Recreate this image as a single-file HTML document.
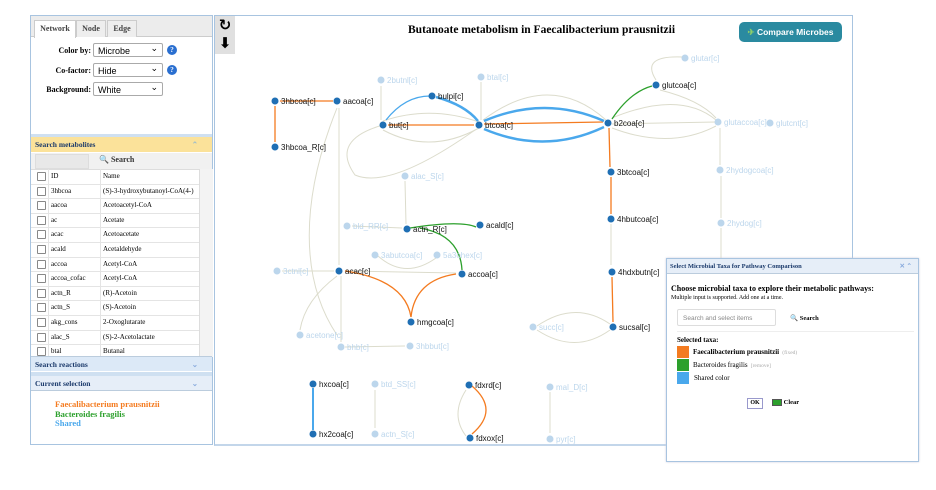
<!DOCTYPE html>
<html><head><meta charset="utf-8"><style>
body{margin:0;width:936px;height:490px;background:#fff;position:relative;overflow:hidden;font-family:"Liberation Serif",serif}
.a{position:absolute}
.lp{left:30px;top:15px;width:181px;height:428px;border:1px solid #a8c4e0;background:#fff}
.tab{position:absolute;top:4px;height:16px;border:1px solid #ccc;border-bottom:none;font-size:8px;font-weight:bold;color:#444;text-align:center;line-height:16px;background:#eee}
.lbl{position:absolute;font-size:8px;font-weight:bold;text-align:right;width:70px}
.sel{position:absolute;left:62px;width:70px;height:14px;border:1px solid #aaa;border-radius:2px;font-family:"Liberation Sans",sans-serif;font-size:9px;line-height:14px;padding-left:4px;box-sizing:border-box}
.sel:after{content:"⌄";position:absolute;right:4px;top:-3px;font-size:9px}
.q{position:absolute;left:136px;width:10px;height:10px;border-radius:50%;background:#2a6fd0;color:#fff;font-size:7px;text-align:center;line-height:10px;font-weight:bold}
.hd{position:absolute;left:0;width:181px;height:15px;font-size:7.5px;font-weight:bold;color:#1b3a6b;line-height:15px;padding-left:4px;box-sizing:border-box}
.row{position:absolute;left:0;width:168px;height:14.6px;border-bottom:1px solid #e4e4e4;font-size:7px;line-height:14px}
.row .cb{position:absolute;left:6px;top:3px;width:7px;height:7px;border:1px solid #888;border-radius:1px}
.row .i{position:absolute;left:20px}.row .n{position:absolute;left:72px}
svg text{font-family:"Liberation Sans",sans-serif;font-size:8px}
</style></head><body>
<div class="a lp">
 <div class="a" style="left:0;top:0;width:181px;height:20px;background:#ececec;border-bottom:1px solid #ccc"></div>
 <div class="tab" style="left:3px;width:40px;background:#fff;height:17px">Network</div>
 <div class="tab" style="left:45px;width:28px">Node</div>
 <div class="tab" style="left:76px;width:28px">Edge</div>
 <div class="lbl" style="left:-10px;top:30px">Color by:</div><div class="sel" style="top:27px">Microbe</div><div class="q" style="top:29px">?</div>
 <div class="lbl" style="left:-10px;top:50px">Co-factor:</div><div class="sel" style="top:47px">Hide</div><div class="q" style="top:49px">?</div>
 <div class="lbl" style="left:-10px;top:69px">Background:</div><div class="sel" style="top:66px">White</div>
 <div class="a" style="left:0;top:118px;width:181px;height:3px;background:#cfe0f1"></div>
 <div class="hd" style="top:121px;background:#fbe29a">Search metabolites<span style="position:absolute;right:14px;color:#9bc">⌃</span></div>
 <div class="a" style="left:0;top:137px;width:181px;height:16px;background:#f1f1f1;border-bottom:1px solid #ddd"></div>
 <div class="a" style="left:4px;top:138px;width:52px;height:13px;background:#e8e8e8;border:1px solid #ddd"></div>
 <div class="a" style="left:68px;top:139px;font-size:8px;font-weight:bold;color:#333"><span style="color:#3a8fd8">🔍</span> Search</div>
 <div class="a" style="left:0;top:153px;width:168px;height:190px;overflow:hidden">
  <div class="row" style="top:0"><div class="cb"></div><span class="i">ID</span><span class="n">Name</span></div>
  <div class="row" style="top:14.6px"><div class="cb"></div><span class="i">3hbcoa</span><span class="n">(S)-3-hydroxybutanoyl-CoA(4-)</span></div>
  <div class="row" style="top:29.2px"><div class="cb"></div><span class="i">aacoa</span><span class="n">Acetoacetyl-CoA</span></div>
  <div class="row" style="top:43.8px"><div class="cb"></div><span class="i">ac</span><span class="n">Acetate</span></div>
  <div class="row" style="top:58.4px"><div class="cb"></div><span class="i">acac</span><span class="n">Acetoacetate</span></div>
  <div class="row" style="top:73px"><div class="cb"></div><span class="i">acald</span><span class="n">Acetaldehyde</span></div>
  <div class="row" style="top:87.6px"><div class="cb"></div><span class="i">accoa</span><span class="n">Acetyl-CoA</span></div>
  <div class="row" style="top:102.2px"><div class="cb"></div><span class="i">accoa_cofac</span><span class="n">Acetyl-CoA</span></div>
  <div class="row" style="top:116.8px"><div class="cb"></div><span class="i">actn_R</span><span class="n">(R)-Acetoin</span></div>
  <div class="row" style="top:131.4px"><div class="cb"></div><span class="i">actn_S</span><span class="n">(S)-Acetoin</span></div>
  <div class="row" style="top:146px"><div class="cb"></div><span class="i">akg_cons</span><span class="n">2-Oxoglutarate</span></div>
  <div class="row" style="top:160.6px"><div class="cb"></div><span class="i">alac_S</span><span class="n">(S)-2-Acetolactate</span></div>
  <div class="row" style="top:175.2px"><div class="cb"></div><span class="i">btal</span><span class="n">Butanal</span></div>
  <div class="a" style="left:17px;top:0;width:1px;height:190px;background:#e4e4e4"></div>
  <div class="a" style="left:69px;top:0;width:1px;height:190px;background:#e4e4e4"></div>
 </div>
 <div class="a" style="left:168px;top:153px;width:13px;height:188px;background:#f3f3f3;border-left:1px solid #ddd"></div>
 <div class="hd" style="top:340px;background:#dce9f7;border-top:1px solid #bcd">Search reactions<span style="position:absolute;right:14px;color:#8ad">⌄</span></div>
 <div class="a" style="left:0;top:356px;width:181px;height:4px;background:#cfe0f1"></div>
 <div class="hd" style="top:360px;background:#e6eef8;border-bottom:1px solid #bcd">Current selection<span style="position:absolute;right:14px;color:#8ad">⌄</span></div>
 <div class="a" style="left:24px;top:384px;font-size:8.5px;font-weight:bold;line-height:9.5px"><span style="color:#f47b20">Faecalibacterium prausnitzii</span><br><span style="color:#2ca02c">Bacteroides fragilis</span><br><span style="color:#4aa8ec">Shared</span></div>
</div>
<div class="a" style="left:214px;top:15px;width:637px;height:428px;border:1px solid #a8c4e0;border-bottom:2px solid #c3d6ea"></div>
<div class="a" style="left:215px;top:16px;width:20px;height:38px;background:#e0e0e0;font-size:15px;font-weight:bold;text-align:center;line-height:18px;font-family:'DejaVu Sans',sans-serif">↻<br>⬇</div>
<div class="a" style="left:408px;top:24px;font-size:11.5px;font-weight:bold">Butanoate metabolism in Faecalibacterium prausnitzii</div>
<div class="a" style="left:739px;top:22px;width:103px;height:20px;background:#2a8aa0;border-radius:5px;color:#fff;font-family:'Liberation Sans',sans-serif;font-size:8.5px;font-weight:bold;line-height:20px;text-align:center"><span style="color:#8ed06a">✈</span> Compare Microbes</div>
<svg class="a" style="left:0;top:0" width="936" height="490">
<g fill="none" stroke="#dcdccc" stroke-width="1">
<path d="M337 108 C300 200 300 280 337 335"/><path d="M339 108 L339 265"/><path d="M383 130 Q430 155 479 128"/><path d="M383 121 Q430 105 479 122"/>
<path d="M475 130 Q390 190 355 175 Q330 140 383 125"/><path d="M381 86 L381 120"/><path d="M481 82 L481 120"/>
<path d="M483 120 Q550 70 606 120"/><path d="M612 118 Q680 90 716 120"/><path d="M612 124 L716 122"/><path d="M612 128 Q670 150 716 126"/>
<path d="M660 90 Q700 100 716 118"/><path d="M656 80 Q640 55 683 57"/><path d="M720 128 L720 165"/><path d="M721 176 L721 218"/><path d="M721 228 L721 258"/>
<path d="M611 224 L611 265"/><path d="M405 181 L406 224"/><path d="M352 226 L402 228"/><path d="M282 271 L334 271"/>
<path d="M378 256 Q405 280 436 258"/><path d="M345 271 L456 273"/><path d="M337 276 Q305 300 300 330"/><path d="M341 276 L341 342"/>
<path d="M345 347 L405 346"/><path d="M537 326 Q575 300 610 324"/><path d="M537 330 Q575 355 610 330"/>
<path d="M375 390 L375 428"/><path d="M550 392 L550 433"/><path d="M466 390 Q450 415 466 436"/>
</g>
<g fill="none" stroke-width="1.3">
<path d="M280 101 L333 101" stroke="#f47b20"/><path d="M275 106 L275 142" stroke="#f47b20"/>
<path d="M388 125 L474 125" stroke="#f47b20"/><path d="M484 124 L603 122" stroke="#f47b20"/>
<path d="M609 128 L610 167" stroke="#f47b20"/><path d="M611 177 L611 214" stroke="#f47b20"/><path d="M612 277 L613 322" stroke="#f47b20"/>
<path d="M345 271 Q405 280 411 317" stroke="#f47b20"/><path d="M456 274 Q415 280 411 317" stroke="#f47b20"/>
<path d="M472 386 Q500 410 472 434" stroke="#f47b20"/>
<path d="M612 119 Q630 92 652 86" stroke="#2ca02c"/><path d="M410 228 Q460 220 476 227" stroke="#2ca02c"/><path d="M420 228 Q460 235 462 270" stroke="#2ca02c"/>
<path d="M386 120 Q405 96 430 96" stroke="#4aa8ec"/><path d="M313 388 L313 430" stroke="#4aa8ec" stroke-width="2"/>
</g>
<g fill="none" stroke="#4aa8ec" stroke-width="2.5"><path d="M436 97 Q465 105 478 121"/><path d="M484 121 Q545 95 604 121"/><path d="M484 129 Q545 155 604 127"/></g>
<g fill="#bcd6ec"><circle cx="381" cy="80" r="3.5"/><circle cx="481" cy="77" r="3.5"/><circle cx="685" cy="58" r="3.5"/><circle cx="718" cy="122" r="3.5"/><circle cx="770" cy="123" r="3.5"/><circle cx="720" cy="170" r="3.5"/><circle cx="721" cy="223" r="3.5"/><circle cx="405" cy="176" r="3.5"/><circle cx="347" cy="226" r="3.5"/><circle cx="375" cy="255" r="3.5"/><circle cx="437" cy="255" r="3.5"/><circle cx="277" cy="271" r="3.5"/><circle cx="533" cy="327" r="3.5"/><circle cx="300" cy="335" r="3.5"/><circle cx="341" cy="347" r="3.5"/><circle cx="410" cy="346" r="3.5"/><circle cx="375" cy="384" r="3.5"/><circle cx="550" cy="387" r="3.5"/><circle cx="375" cy="434" r="3.5"/><circle cx="550" cy="439" r="3.5"/></g>
<g fill="#bcd6ec"><text x="387" y="83">2butnl[c]</text><text x="487" y="80">btal[c]</text><text x="691" y="61">glutar[c]</text><text x="724" y="125">glutaccoa[c]</text><text x="776" y="126">glutcnt[c]</text><text x="726" y="173">2hydogcoa[c]</text><text x="727" y="226">2hydog[c]</text><text x="411" y="179">alac_S[c]</text><text x="353" y="229">bld_RR[c]</text><text x="381" y="258">3abutcoa[c]</text><text x="443" y="258">5a3ohex[c]</text><text x="283" y="274">3ctnl[c]</text><text x="539" y="330">succ[c]</text><text x="306" y="338">acetone[c]</text><text x="347" y="350">bhb[c]</text><text x="416" y="349">3hbbut[c]</text><text x="381" y="387">btd_SS[c]</text><text x="556" y="390">mal_D[c]</text><text x="381" y="437">actn_S[c]</text><text x="556" y="442">pyr[c]</text></g>
<g fill="#1f6fb4"><circle cx="275" cy="101" r="3.5"/><circle cx="337" cy="101" r="3.5"/><circle cx="275" cy="147" r="3.5"/><circle cx="432" cy="96" r="3.5"/><circle cx="383" cy="125" r="3.5"/><circle cx="479" cy="125" r="3.5"/><circle cx="608" cy="123" r="3.5"/><circle cx="656" cy="85" r="3.5"/><circle cx="611" cy="172" r="3.5"/><circle cx="611" cy="219" r="3.5"/><circle cx="407" cy="229" r="3.5"/><circle cx="480" cy="225" r="3.5"/><circle cx="339" cy="271" r="3.5"/><circle cx="462" cy="274" r="3.5"/><circle cx="612" cy="272" r="3.5"/><circle cx="411" cy="322" r="3.5"/><circle cx="613" cy="327" r="3.5"/><circle cx="313" cy="384" r="3.5"/><circle cx="469" cy="385" r="3.5"/><circle cx="313" cy="434" r="3.5"/><circle cx="470" cy="438" r="3.5"/></g>
<g fill="#111"><text x="281" y="104">3hbcoa[c]</text><text x="343" y="104">aacoa[c]</text><text x="281" y="150">3hbcoa_R[c]</text><text x="438" y="99">bulpi[c]</text><text x="389" y="128">but[c]</text><text x="485" y="128">btcoa[c]</text><text x="614" y="126">b2coa[c]</text><text x="662" y="88">glutcoa[c]</text><text x="617" y="175">3btcoa[c]</text><text x="617" y="222">4hbutcoa[c]</text><text x="413" y="232">actn_R[c]</text><text x="486" y="228">acald[c]</text><text x="345" y="274">acac[c]</text><text x="468" y="277">accoa[c]</text><text x="618" y="275">4hdxbutn[c]</text><text x="417" y="325">hmgcoa[c]</text><text x="619" y="330">sucsal[c]</text><text x="319" y="387">hxcoa[c]</text><text x="475" y="388">fdxrd[c]</text><text x="319" y="437">hx2coa[c]</text><text x="476" y="441">fdxox[c]</text></g>
</svg>
<div class="a" style="left:666px;top:258px;width:251px;height:202px;border:1px solid #a8c4e0;background:#fff;box-shadow:0 0 2px #ccd">
 <div class="a" style="left:0;top:0;width:251px;height:15px;background:#e6eef8;border-bottom:1px solid #bcd;font-size:6.5px;font-weight:bold;color:#1b3a6b;line-height:15px;padding-left:3px;box-sizing:border-box">Select Microbial Taxa for Pathway Comparison<span style="position:absolute;right:6px;color:#8ad">✕ ⌃</span></div>
 <div class="a" style="left:4px;top:25px;font-size:8px;font-weight:bold">Choose microbial taxa to explore their metabolic pathways:</div>
 <div class="a" style="left:4px;top:36px;font-size:6px">Multiple input is supported. Add one at a time.</div>
 <div class="a" style="left:10px;top:50px;width:99px;height:17px;border:1px solid #ddd;border-radius:2px;font-family:'Liberation Sans',sans-serif;font-size:6.5px;color:#888;line-height:17px;padding-left:5px;box-sizing:border-box">Search and select items</div>
 <div class="a" style="left:123px;top:55px;font-size:6.5px;font-weight:bold"><span style="color:#3a8fd8">🔍</span> Search</div>
 <div class="a" style="left:10px;top:72px;width:237px;height:1px;background:#eee"></div>
 <div class="a" style="left:10px;top:77px;font-size:7px;font-weight:bold">Selected taxa:</div>
 <div class="a" style="left:10px;top:87px;width:12px;height:12px;background:#f47b20"></div><div class="a" style="left:26px;top:89px;font-size:7px;font-weight:bold">Faecalibacterium prausnitzii <span style="font-weight:normal;color:#aaa;font-size:5.5px">&nbsp;(fixed)</span></div>
 <div class="a" style="left:10px;top:100px;width:12px;height:12px;background:#2ca02c"></div><div class="a" style="left:26px;top:102px;font-size:7px">Bacteroides fragilis <span style="color:#aaa;font-size:5.5px">&nbsp;[remove]</span></div>
 <div class="a" style="left:10px;top:113px;width:12px;height:12px;background:#4aa8ec"></div><div class="a" style="left:27px;top:115px;font-size:7px">Shared color</div>
 <div class="a" style="left:80px;top:139px;width:14px;height:9px;border:1px solid #99c;font-size:6px;text-align:center;line-height:9px;font-weight:bold">OK</div>
 <div class="a" style="left:105px;top:140px;font-size:6.5px;font-weight:bold"><span style="display:inline-block;width:8px;height:5px;background:#2ca02c;border:1px solid #555;vertical-align:middle"></span> Clear</div>
</div>
</body></html>
